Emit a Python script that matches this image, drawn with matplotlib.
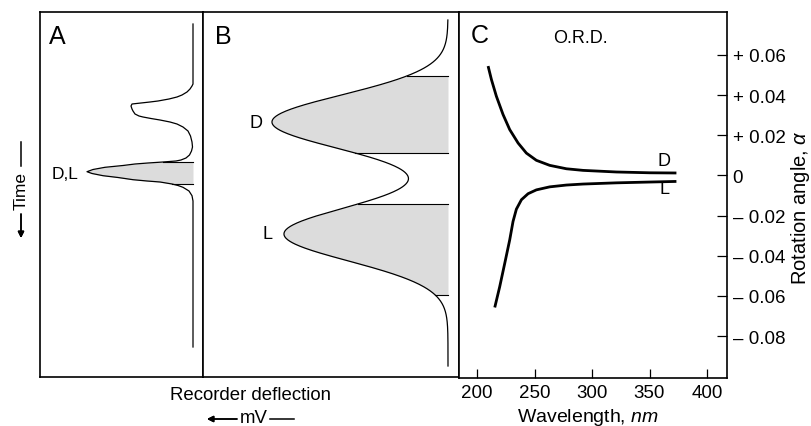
import matplotlib.pyplot as plt
import numpy as np
from matplotlib.lines import Line2D

plt.rcParams['font.family'] = ['Liberation Sans', 'DejaVu Sans']
plt.rcParams['mathtext.fontset'] = 'custom'
plt.rcParams['mathtext.rm'] = 'Liberation Sans'
plt.rcParams['mathtext.it'] = 'Liberation Sans:italic'

# Panel A: recorder trace (time, deflection)
a_time = [12, 72, 74, 77, 80, 83, 85, 87, 89, 90, 91, 92, 94, 97, 99, 102, 104, 105,
          106.5, 108, 110, 112, 115, 119, 124, 130, 135, 139, 143, 146, 148, 149, 150,
          151, 152, 153.5, 155.3, 157.5, 159.7, 161.5, 163.7, 165.5, 167.7, 169, 170,
          172, 173.5, 175.3, 179, 183.7, 189, 335]
a_defl = [0, 0, 1, 3, 6, 11, 16, 24, 35, 43, 52, 61, 62, 61, 60, 58, 54, 50,
          42, 33, 23, 16, 10, 5, 2.5, 1, 0.5, 1.5, 3.5, 7, 12, 17, 30,
          45, 58, 70, 88, 100, 106, 101, 90, 75, 60, 46, 33,
          21, 15, 10, 4, 1, 0, 0]
a_shade = (150, 172)

# Panel B: two resolved peaks (centre, height, width in time units)
b_labels = ['D', 'L']
b_centers = [110, 222]
b_heights = [176, 164]
b_widths = [27, 27]
b_shades = [(64, 141), (192, 283)]
b_span = (8, 354)

# Panel C: optical rotatory dispersion
wl_d = [209.6, 212.5, 216.8, 222.6, 228.4, 235.7, 242.9, 251.6, 263.2, 277.7, 292.2,
        321.2, 350.2, 373.4]
alpha_d = [0.0544, 0.0477, 0.0394, 0.0303, 0.0228, 0.0161, 0.0111, 0.0075, 0.0050,
           0.0033, 0.0025, 0.0017, 0.0013, 0.0012]
wl_l = [215.4, 219.7, 224.1, 228.4, 231.3, 234.2, 238.6, 244.4, 251.6, 263.2, 277.7,
        292.2, 321.2, 350.2, 373.4]
alpha_l = [-0.0657, -0.0554, -0.0437, -0.0321, -0.0229, -0.0168, -0.0121, -0.0091,
           -0.0072, -0.0057, -0.0048, -0.0043, -0.0037, -0.0033, -0.0030]
wl_ticks = [200, 250, 300, 350, 400]
alpha_ticks = [0.06, 0.04, 0.02, 0, -0.02, -0.04, -0.06, -0.08]
alpha_ticklabels = ['+ 0.06', '+ 0.04', '+ 0.02', '0',
                    '\u2013 0.02', '\u2013 0.04', '\u2013 0.06', '\u2013 0.08']

W, H = 811, 427
SHADE = '#dcdcdc'
LW_BOX = 1.2
FS = 13.4


def fx(x):
    return x / W


def fy(y):
    return 1 - y / H


fig = plt.figure(figsize=(W / 100, H / 100), dpi=100)
axA = fig.add_axes([fx(40), fy(378), fx(163), 365 / H])
axB = fig.add_axes([fx(203), fy(378), fx(256), 365 / H])
axC = fig.add_axes([fx(459), fy(379), fx(268), 366 / H])

for ax in (axA, axB, axC):
    for s in ax.spines.values():
        s.set_linewidth(LW_BOX)

# --- A ---
t = np.array(a_time, dtype=float)
d = np.array(a_defl, dtype=float)
m = (t >= a_shade[0]) & (t <= a_shade[1])
axA.fill_betweenx(t[m], 0, d[m], color=SHADE, lw=0)
for tb in a_shade:
    axA.plot([0, d[t == tb][0]], [tb, tb], color='k', lw=0.8)
axA.plot(d, t, color='k', lw=0.9)
axA.set_xlim(153, -10)
axA.set_ylim(365, 0)
axA.set_xticks([])
axA.set_yticks([])
axA.text(0.104, 0.934, 'A', transform=axA.transAxes, fontsize=18, ha='center', va='center')
axA.text(128, 162, 'D,L', fontsize=12.5, ha='center', va='center')

# --- B ---
tb_ = np.linspace(b_span[0], b_span[1], 700)


def b_trace(tt):
    tt = np.asarray(tt, dtype=float)
    out = np.zeros_like(tt)
    for c, h, w in zip(b_centers, b_heights, b_widths):
        out += h * np.exp(-(tt - c) ** 2 / (2 * w ** 2))
    return out


db = b_trace(tb_)
for lo, hi in b_shades:
    tm = np.linspace(lo, hi, 200)
    axB.fill_betweenx(tm, 0, b_trace(tm), color=SHADE, lw=0)
    for edge in (lo, hi):
        axB.plot([0, b_trace([edge])[0]], [edge, edge], color='k', lw=0.8)
axB.plot(db, tb_, color='k', lw=0.9)
for lab, c, h in zip(b_labels, b_centers, b_heights):
    axB.text(h + 16, c, lab, fontsize=13, ha='center', va='center')
axB.set_xlim(245, -11)
axB.set_ylim(365, 0)
axB.set_xticks([])
axB.set_yticks([])
axB.text(0.078, 0.934, 'B', transform=axB.transAxes, fontsize=18, ha='center', va='center')

# --- C ---
axC.plot(wl_d, alpha_d, color='k', lw=2.0, solid_capstyle='butt')
axC.plot(wl_l, alpha_l, color='k', lw=2.0, solid_capstyle='butt')
axC.set_xlim(184.3, 417.4)
axC.set_ylim(-0.1008, 0.0813)
axC.yaxis.tick_right()
axC.set_yticks(alpha_ticks)
axC.set_yticklabels(alpha_ticklabels)
axC.set_xticks(wl_ticks)
axC.tick_params(axis='y', direction='in', length=7.2, width=0.9, pad=4.0, labelsize=13.5)
axC.tick_params(axis='x', direction='in', length=6.3, width=0.9, pad=4.5, labelsize=13.5)
axC.text(363, 0.0075, 'D', fontsize=13, ha='center', va='center')
axC.text(363, -0.0063, 'L', fontsize=13, ha='center', va='center')
axC.text(202.3, 0.0697, 'C', fontsize=18, ha='center', va='center')
axC.text(290, 0.0685, 'O.R.D.', fontsize=13, ha='center', va='center')
axC.set_xlabel(r'Wavelength, $\it{nm}$', fontsize=14)
axC.xaxis.set_label_coords((588 - 459) / 268, (379 - 417.5) / 366)
axC.xaxis.label.set_va('center')

# --- figure-level labels ---
fig.text(fx(801), fy(208), r'Rotation angle, $\it{\alpha}$', rotation=90, fontsize=14.5,
         ha='center', va='center')
fig.text(fx(251), fy(396), 'Recorder deflection', fontsize=FS, ha='center', va='center')
fig.text(fx(254), fy(419), 'mV', fontsize=FS, ha='center', va='center')
fig.add_artist(Line2D([fx(270), fx(294)], [fy(420), fy(420)], color='k', lw=1.1))
fig.add_artist(Line2D([fx(21), fx(21)], [fy(143), fy(167)], color='k', lw=1.1))
fig.text(fx(21), fy(191), 'Time', rotation=90, fontsize=12.5, ha='center', va='center')
arrow = dict(arrowstyle='-|>', color='k', lw=1.1, mutation_scale=9, shrinkA=0, shrinkB=0)
fig.add_artist(plt.annotate('', xy=(fx(207), fy(420)), xytext=(fx(237), fy(420)),
                            xycoords='figure fraction', arrowprops=arrow))
fig.add_artist(plt.annotate('', xy=(fx(21), fy(239)), xytext=(fx(21), fy(215)),
                            xycoords='figure fraction', arrowprops=arrow))

fig.savefig('out.png', dpi=100)
